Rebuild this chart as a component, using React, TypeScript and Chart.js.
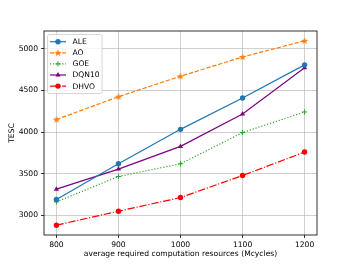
import React, { useEffect, useRef } from 'react';
import { Chart, registerables } from 'chart.js';
import { drawPoint } from 'chart.js/helpers';

Chart.register(...registerables);

const xValues = [800, 900, 1000, 1100, 1200];
const xTicks = [800, 900, 1000, 1100, 1200];
const yTicks = [3000, 3500, 4000, 4500, 5000];
const aleValues = [3188, 3618, 4032, 4408, 4807];
const aoValues = [4150, 4424, 4670, 4902, 5096];
const goeValues = [3160, 3465, 3618, 3993, 4241];
const dqn10Values = [3313, 3554, 3827, 4217, 4771];
const dhvoValues = [2880, 3048, 3212, 3477, 3759];
const xTitle = 'average required computation resources (Mcycles)';
const yTitle = 'TESC';

const FONT = 'DejaVu Sans';
const FS = 7.6;

function makeStar(color: string): HTMLCanvasElement {
  const c = document.createElement('canvas');
  c.width = 8;
  c.height = 8;
  const ctx = c.getContext('2d')!;
  const cx = 4, cy = 4.2, ro = 3.8, ri = 1.6;
  ctx.beginPath();
  for (let i = 0; i < 10; i++) {
    const r = i % 2 === 0 ? ro : ri;
    const a = -Math.PI / 2 + (i * Math.PI) / 5;
    const px = cx + r * Math.cos(a);
    const py = cy + r * Math.sin(a);
    if (i === 0) ctx.moveTo(px, py);
    else ctx.lineTo(px, py);
  }
  ctx.closePath();
  ctx.fillStyle = color;
  ctx.fill();
  return c;
}

export default function App() {
  const ref = useRef<HTMLCanvasElement | null>(null);

  useEffect(() => {
    if (!ref.current) return;
    const star = makeStar('#ff7f0e');
    const lw = 1.2;
    const mk = (vals: number[]) => vals.map((v, i) => ({ x: xValues[i], y: v }));

    const datasets: any[] = [
      {
        label: 'ALE', data: mk(aleValues), borderColor: '#1f77b4', backgroundColor: '#1f77b4',
        borderWidth: lw, pointStyle: 'circle', pointRadius: 2.7, pointBorderWidth: 0,
      },
      {
        label: 'AO', data: mk(aoValues), borderColor: '#ff7f0e', backgroundColor: '#ff7f0e',
        borderWidth: lw, borderDash: [4.3, 1.8], pointStyle: star, pointRadius: 4, pointBorderWidth: 0,
      },
      {
        label: 'GOE', data: mk(goeValues), borderColor: '#2ca02c', backgroundColor: '#2ca02c',
        borderWidth: lw, borderDash: [1.15, 1.9], pointStyle: 'cross', pointRadius: 2.6, pointBorderWidth: 1,
      },
      {
        label: 'DQN10', data: mk(dqn10Values), borderColor: '#800080', backgroundColor: '#800080',
        borderWidth: lw, pointStyle: 'triangle', pointRadius: 3, pointBorderWidth: 0,
      },
      {
        label: 'DHVO', data: mk(dhvoValues), borderColor: '#ff0000', backgroundColor: '#ff0000',
        borderWidth: lw, borderDash: [7.4, 1.8, 1.15, 1.8], pointStyle: 'circle', pointRadius: 2.7, pointBorderWidth: 0,
      },
    ];

    const decor = {
      id: 'decor',
      afterDraw(chart: any) {
        const ctx = chart.ctx as CanvasRenderingContext2D;
        const a = chart.chartArea;
        ctx.save();
        // frame
        ctx.strokeStyle = '#000';
        ctx.lineWidth = 0.8;
        ctx.setLineDash([]);
        ctx.strokeRect(a.left, a.top, a.right - a.left, a.bottom - a.top);
        // axis titles
        ctx.fillStyle = '#000';
        ctx.font = `${FS}px "${FONT}"`;
        ctx.textAlign = 'center';
        ctx.textBaseline = 'middle';
        ctx.fillText(xTitle, (a.left + a.right) / 2, 254);
        ctx.save();
        ctx.translate(12, (a.top + a.bottom) / 2);
        ctx.rotate(-Math.PI / 2);
        ctx.fillText(yTitle, 0, 0);
        ctx.restore();
        // legend
        const bx = 47.5, by = 34.5, bw = 54.5, bh = 59;
        ctx.beginPath();
        const r = 2;
        ctx.moveTo(bx + r, by);
        ctx.lineTo(bx + bw - r, by);
        ctx.quadraticCurveTo(bx + bw, by, bx + bw, by + r);
        ctx.lineTo(bx + bw, by + bh - r);
        ctx.quadraticCurveTo(bx + bw, by + bh, bx + bw - r, by + bh);
        ctx.lineTo(bx + r, by + bh);
        ctx.quadraticCurveTo(bx, by + bh, bx, by + bh - r);
        ctx.lineTo(bx, by + r);
        ctx.quadraticCurveTo(bx, by, bx + r, by);
        ctx.closePath();
        ctx.fillStyle = 'rgba(255,255,255,0.8)';
        ctx.fill();
        ctx.strokeStyle = '#cccccc';
        ctx.lineWidth = 0.8;
        ctx.stroke();
        chart.data.datasets.forEach((ds: any, i: number) => {
          const y = 41.7 + i * 11.1;
          ctx.beginPath();
          ctx.setLineDash(ds.borderDash || []);
          ctx.strokeStyle = ds.borderColor;
          ctx.lineWidth = ds.borderWidth;
          ctx.moveTo(50, y);
          ctx.lineTo(66, y);
          ctx.stroke();
          ctx.setLineDash([]);
          ctx.fillStyle = ds.backgroundColor;
          ctx.strokeStyle = ds.borderColor;
          ctx.lineWidth = ds.pointBorderWidth || 0.001;
          drawPoint(ctx, { pointStyle: ds.pointStyle, radius: ds.pointRadius, rotation: 0, borderWidth: ds.pointBorderWidth }, 58, y);
          ctx.fillStyle = '#000';
          ctx.font = `${FS}px "${FONT}"`;
          ctx.textAlign = 'left';
          ctx.textBaseline = 'middle';
          ctx.fillText(ds.label, 72.5, y + 0.5);
        });
        ctx.restore();
      },
    };

    const chart = new Chart(ref.current, {
      type: 'line',
      data: { datasets },
      plugins: [decor],
      options: {
        animation: false,
        responsive: false,
        devicePixelRatio: 1,
        layout: { padding: { top: 31, right: 35, left: 0, bottom: 0 } },
        plugins: { legend: { display: false }, tooltip: { enabled: false } },
        scales: {
          x: {
            type: 'linear',
            min: 780,
            max: 1220,
            afterFit: (s: any) => { s.height = 29; },
            afterBuildTicks: (s: any) => { s.ticks = xTicks.map((v) => ({ value: v })); },
            ticks: { color: '#000', font: { family: FONT, size: FS }, padding: 2, maxRotation: 0, autoSkip: false, callback: (v: any) => String(v) },
            grid: { color: '#b0b0b0', lineWidth: 0.6, tickLength: 3, tickColor: '#000', tickWidth: 0.8 },
            border: { display: false },
          },
          y: {
            type: 'linear',
            min: 2762,
            max: 5214,
            afterFit: (s: any) => { s.width = 44; },
            afterBuildTicks: (s: any) => { s.ticks = yTicks.map((v) => ({ value: v })); },
            ticks: { color: '#000', font: { family: FONT, size: FS }, padding: 3, autoSkip: false, callback: (v: any) => String(v) },
            grid: { color: '#b0b0b0', lineWidth: 0.6, tickLength: 3, tickColor: '#000', tickWidth: 0.8 },
            border: { display: false },
          },
        },
      } as any,
    });
    return () => chart.destroy();
  }, []);

  return (
    <div style={{ position: 'fixed', left: 0, top: 0, width: 352, height: 264, background: '#fff' }}>
      <canvas ref={ref} width={352} height={264} style={{ width: 352, height: 264 }} />
    </div>
  );
}
